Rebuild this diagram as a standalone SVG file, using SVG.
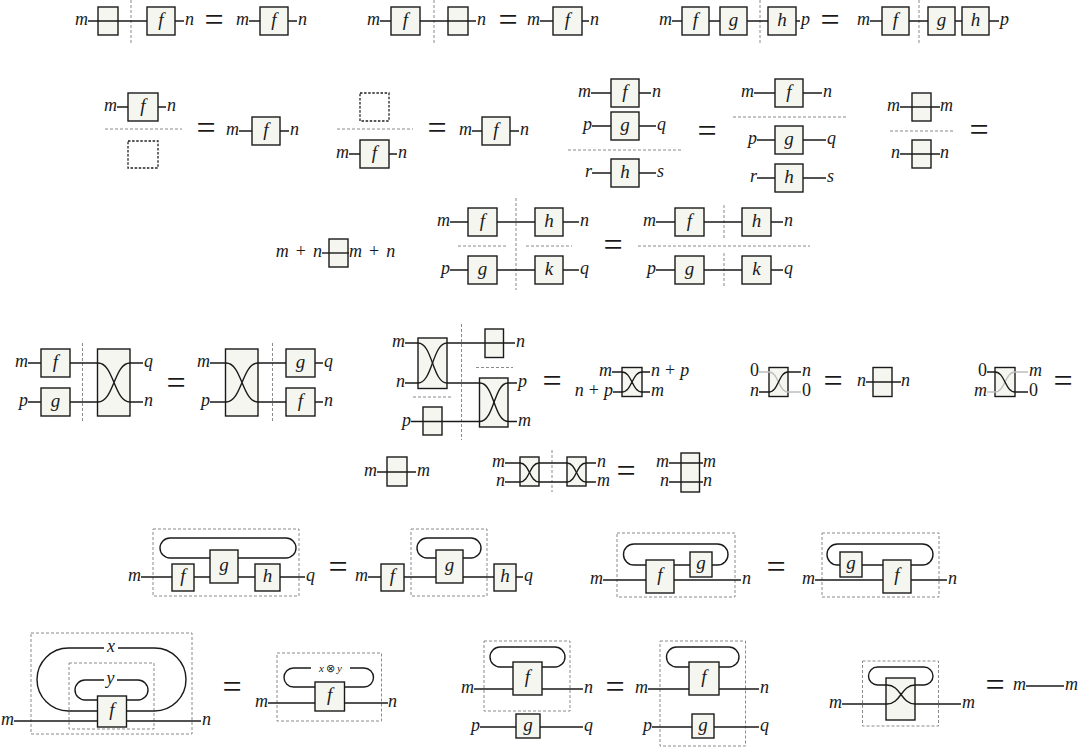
<svg xmlns="http://www.w3.org/2000/svg" width="1084" height="749" viewBox="0 0 1084 749">
<style>
.b{fill:#f6f6f0;stroke:#1a1a1a;stroke-width:1.4}
.w{fill:none;stroke:#1a1a1a;stroke-width:1.4}
.gw{fill:none;stroke:#bdbdbd;stroke-width:1.4}
.d{fill:none;stroke:#8a8a8a;stroke-width:1;stroke-dasharray:3 2}
.dot{fill:none;stroke:#222;stroke-width:1.3;stroke-dasharray:2.5 1.6}
.t{font-family:"Liberation Serif",serif;font-style:italic;font-size:18px;fill:#1a1a1a}
.e{text-anchor:end}
.c{text-anchor:middle;font-size:19px}
.s{font-size:11px;text-anchor:middle}
.u{font-style:normal}
.eq{font-family:"Liberation Serif",serif;font-size:34px;fill:#1a1a1a;text-anchor:middle}
</style>
<rect width="1084" height="749" fill="#ffffff"/>

<!-- ===== nodes: boxes ===== -->
<g id="row1">
  <g id="r1a-id"><rect class="b" x="98" y="7" width="20" height="28"/></g>
  <g id="r1a-f"><rect class="b" x="147" y="7" width="28" height="28"/><text class="t c" x="161" y="26">f</text></g>
  <g id="r1b-f"><rect class="b" x="260" y="7" width="28" height="28"/><text class="t c" x="274" y="26">f</text></g>
  <g id="r1c-f"><rect class="b" x="391" y="7" width="29" height="28"/><text class="t c" x="405.5" y="26">f</text></g>
  <g id="r1c-id"><rect class="b" x="448" y="7" width="20" height="28"/></g>
  <g id="r1d-f"><rect class="b" x="553" y="7" width="29" height="28"/><text class="t c" x="567.5" y="26">f</text></g>
  <g id="r1e-f"><rect class="b" x="682" y="7" width="27" height="28"/><text class="t c" x="695.5" y="26">f</text></g>
  <g id="r1e-g"><rect class="b" x="720" y="7" width="27" height="28"/><text class="t c" x="733.5" y="26">g</text></g>
  <g id="r1e-h"><rect class="b" x="768" y="7" width="28" height="28"/><text class="t c" x="782" y="26">h</text></g>
  <g id="r1f-f"><rect class="b" x="882" y="7" width="27" height="28"/><text class="t c" x="895.5" y="26">f</text></g>
  <g id="r1f-g"><rect class="b" x="928" y="7" width="27" height="28"/><text class="t c" x="941.5" y="26">g</text></g>
  <g id="r1f-h"><rect class="b" x="962" y="7" width="27" height="28"/><text class="t c" x="975.5" y="26">h</text></g>
</g>

<g id="row2">
  <g id="r2a-f"><rect class="b" x="128" y="93" width="30" height="28"/><text class="t c" x="143" y="112">f</text></g>
  <g id="r2a-empty"><rect class="dot" x="128" y="141" width="30" height="27"/></g>
  <g id="r2b-f"><rect class="b" x="252" y="117" width="28" height="28"/><text class="t c" x="266" y="136">f</text></g>
  <g id="r2c-empty"><rect class="dot" x="360" y="93" width="29" height="28"/></g>
  <g id="r2c-f"><rect class="b" x="360" y="140" width="29" height="28"/><text class="t c" x="374.5" y="159">f</text></g>
  <g id="r2d-f"><rect class="b" x="482" y="117" width="28" height="28"/><text class="t c" x="496" y="136">f</text></g>
  <g id="r2e-f"><rect class="b" x="611" y="79" width="28" height="28"/><text class="t c" x="625" y="98">f</text></g>
  <g id="r2e-g"><rect class="b" x="611" y="112" width="28" height="28"/><text class="t c" x="625" y="131">g</text></g>
  <g id="r2e-h"><rect class="b" x="611" y="159" width="28" height="28"/><text class="t c" x="625" y="178">h</text></g>
  <g id="r2f-f"><rect class="b" x="775" y="79" width="28" height="28"/><text class="t c" x="789" y="98">f</text></g>
  <g id="r2f-g"><rect class="b" x="775" y="126" width="28" height="28"/><text class="t c" x="789" y="145">g</text></g>
  <g id="r2f-h"><rect class="b" x="775" y="164" width="28" height="28"/><text class="t c" x="789" y="183">h</text></g>
  <g id="r2g-idm"><rect class="b" x="912" y="93" width="19" height="28"/></g>
  <g id="r2g-idn"><rect class="b" x="912" y="140" width="19" height="28"/></g>
</g>

<g id="row3">
  <g id="r3a-id"><rect class="b" x="329" y="239" width="19" height="28"/></g>
  <g id="r3b-f"><rect class="b" x="468" y="208" width="29" height="28"/><text class="t c" x="482.5" y="227">f</text></g>
  <g id="r3b-h"><rect class="b" x="535" y="208" width="28" height="28"/><text class="t c" x="549" y="227">h</text></g>
  <g id="r3b-g"><rect class="b" x="468" y="256" width="29" height="28"/><text class="t c" x="482.5" y="275">g</text></g>
  <g id="r3b-k"><rect class="b" x="535" y="256" width="28" height="28"/><text class="t c" x="549" y="275">k</text></g>
  <g id="r3c-f"><rect class="b" x="675" y="208" width="29" height="28"/><text class="t c" x="689.5" y="227">f</text></g>
  <g id="r3c-h"><rect class="b" x="742" y="208" width="29" height="28"/><text class="t c" x="756.5" y="227">h</text></g>
  <g id="r3c-g"><rect class="b" x="675" y="256" width="29" height="28"/><text class="t c" x="689.5" y="275">g</text></g>
  <g id="r3c-k"><rect class="b" x="742" y="256" width="29" height="28"/><text class="t c" x="756.5" y="275">k</text></g>
</g>

<g id="row4">
  <g id="r4a-f"><rect class="b" x="41" y="349" width="29" height="28"/><text class="t c" x="55.5" y="368">f</text></g>
  <g id="r4a-g"><rect class="b" x="41" y="388" width="29" height="28"/><text class="t c" x="55.5" y="407">g</text></g>
  <g id="r4a-sw"><rect class="b" x="97.5" y="349" width="32.5" height="67"/></g>
  <g id="r4b-sw"><rect class="b" x="225.5" y="349" width="32.5" height="67"/></g>
  <g id="r4b-g"><rect class="b" x="286" y="349" width="29" height="28"/><text class="t c" x="300.5" y="368">g</text></g>
  <g id="r4b-f"><rect class="b" x="286" y="388" width="29" height="28"/><text class="t c" x="300.5" y="407">f</text></g>
  <g id="r4c-sw1"><rect class="b" x="418" y="338" width="29" height="50.5"/></g>
  <g id="r4c-id1"><rect class="b" x="485" y="329" width="18.5" height="28.5"/></g>
  <g id="r4c-sw2"><rect class="b" x="479.5" y="378" width="28.5" height="49"/></g>
  <g id="r4c-id2"><rect class="b" x="423" y="407" width="19" height="28"/></g>
  <g id="r4d-sw"><rect class="b" x="622" y="367.5" width="20" height="29"/></g>
  <g id="r4e-sw"><rect class="b" x="769" y="367.5" width="19" height="29"/></g>
  <g id="r4f-id"><rect class="b" x="873" y="367.5" width="19" height="29"/></g>
  <g id="r4g-sw"><rect class="b" x="995" y="367.5" width="20" height="29"/></g>
</g>

<g id="row5">
  <g id="r5a-id"><rect class="b" x="387" y="457" width="20" height="29"/></g>
  <g id="r5b-sw1"><rect class="b" x="520" y="457" width="19" height="29"/></g>
  <g id="r5b-sw2"><rect class="b" x="567" y="457" width="19" height="29"/></g>
  <g id="r5c-id"><rect class="b" x="681" y="453" width="18.5" height="39"/></g>
</g>

<g id="row6">
  <g id="r6a-frame"><rect class="d" x="153" y="529" width="146" height="67"/></g>
  <g id="r6a-f"><rect class="b" x="172" y="564" width="22" height="27"/><text class="t c" x="183" y="582">f</text></g>
  <g id="r6a-g"><rect class="b" x="210" y="550" width="28" height="33"/><text class="t c" x="224" y="571">g</text></g>
  <g id="r6a-h"><rect class="b" x="255" y="564" width="25" height="27"/><text class="t c" x="267.5" y="582">h</text></g>
  <g id="r6b-frame"><rect class="d" x="411" y="529" width="76" height="67"/></g>
  <g id="r6b-f"><rect class="b" x="381" y="564" width="23" height="27"/><text class="t c" x="392.5" y="582">f</text></g>
  <g id="r6b-g"><rect class="b" x="436" y="550" width="27" height="33"/><text class="t c" x="449.5" y="571">g</text></g>
  <g id="r6b-h"><rect class="b" x="494" y="564" width="22" height="27"/><text class="t c" x="505" y="582">h</text></g>
  <g id="r6c-frame"><rect class="d" x="617" y="533" width="118" height="64"/></g>
  <g id="r6c-f"><rect class="b" x="646" y="560" width="28" height="33"/><text class="t c" x="660" y="581">f</text></g>
  <g id="r6c-g"><rect class="b" x="690" y="552" width="22" height="25"/><text class="t c" x="701" y="569">g</text></g>
  <g id="r6d-frame"><rect class="d" x="822" y="533" width="117" height="64"/></g>
  <g id="r6d-g"><rect class="b" x="840" y="552" width="22" height="25"/><text class="t c" x="851" y="569">g</text></g>
  <g id="r6d-f"><rect class="b" x="883" y="560" width="28" height="33"/><text class="t c" x="897" y="581">f</text></g>
</g>

<g id="row7">
  <g id="r7a-outer"><rect class="d" x="31" y="633" width="161" height="101"/></g>
  <g id="r7a-inner"><rect class="d" x="69" y="663" width="85" height="66"/></g>
  <g id="r7a-f"><rect class="b" x="97.5" y="696" width="29" height="31"/><text class="t c" x="112" y="716">f</text></g>
  <g id="r7b-frame"><rect class="d" x="277" y="653" width="104.5" height="68"/></g>
  <g id="r7b-f"><rect class="b" x="315" y="682" width="29.5" height="29"/><text class="t c" x="329.7" y="701">f</text></g>
  <g id="r7c-frame"><rect class="d" x="484" y="641" width="86" height="70"/></g>
  <g id="r7c-f"><rect class="b" x="513" y="662" width="29" height="33"/><text class="t c" x="527.5" y="683">f</text></g>
  <g id="r7c-g"><rect class="b" x="516" y="714" width="24" height="24"/><text class="t c" x="528" y="731">g</text></g>
  <g id="r7d-frame"><rect class="d" x="660" y="641" width="85.5" height="105"/></g>
  <g id="r7d-f"><rect class="b" x="689" y="662" width="30" height="33"/><text class="t c" x="704" y="683">f</text></g>
  <g id="r7d-g"><rect class="b" x="692" y="714" width="22" height="24"/><text class="t c" x="703" y="731">g</text></g>
  <g id="r7e-frame"><rect class="d" x="862.5" y="661" width="76" height="65"/></g>
  <g id="r7e-sw"><rect class="b" x="886" y="678" width="29" height="42"/></g>
</g>

<!-- ===== connectors ===== -->
<g id="connectors">
  <g id="separators">
    <line class="d" x1="131" y1="0" x2="131" y2="44"/>
    <line class="d" x1="434" y1="0" x2="434" y2="44"/>
    <line class="d" x1="760" y1="0" x2="760" y2="44"/>
    <line class="d" x1="919" y1="0" x2="919" y2="44"/>
    <line class="d" x1="105" y1="129" x2="182" y2="129"/>
    <line class="d" x1="337" y1="129" x2="413" y2="129"/>
    <line class="d" x1="568" y1="150" x2="682" y2="150"/>
    <line class="d" x1="733" y1="117" x2="847" y2="117"/>
    <line class="d" x1="890" y1="131" x2="955" y2="131"/>
    <line class="d" x1="516" y1="198" x2="516" y2="290"/>
    <line class="d" x1="458" y1="246" x2="506" y2="246"/>
    <line class="d" x1="526" y1="246" x2="572" y2="246"/>
    <line class="d" x1="724" y1="205" x2="724" y2="240"/>
    <line class="d" x1="724" y1="253" x2="724" y2="288"/>
    <line class="d" x1="638" y1="246" x2="810" y2="246"/>
    <line class="d" x1="82.5" y1="343" x2="82.5" y2="422"/>
    <line class="d" x1="272.5" y1="343" x2="272.5" y2="422"/>
    <line class="d" x1="461.5" y1="324" x2="461.5" y2="440"/>
    <line class="d" x1="476" y1="367.5" x2="513" y2="367.5"/>
    <line class="d" x1="413" y1="397" x2="451" y2="397"/>
    <line class="d" x1="552" y1="450" x2="552" y2="492"/>
  </g>
  <path class="w" d="M88,21H147M175,21H184"/>
  <path class="w" d="M249,21H260M288,21H297"/>
  <path class="w" d="M380,21H391M420,21H476"/>
  <path class="w" d="M540,21H553M582,21H589"/>
  <path class="w" d="M672,21H682M709,21H720M747,21H768M796,21H800"/>
  <path class="w" d="M870,21H882M909,21H928M955,21H962M989,21H999"/>
  <path class="w" d="M117,107H128M158,107H166"/>
  <path class="w" d="M239,131H252M280,131H289"/>
  <path class="w" d="M349,154H360M389,154H397"/>
  <path class="w" d="M472,131H482M510,131H519"/>
  <path class="w" d="M591,93H611M639,93H651M592,126H611M639,126H656M592,173H611M639,173H656"/>
  <path class="w" d="M754,93H775M803,93H822M757,140H775M803,140H826M757,178H775M803,178H826"/>
  <path class="w" d="M900,107H940M900,154H940"/>
  <path class="w" d="M322,253H349"/>
  <path class="w" d="M450,222H468M497,222H535M563,222H579M450,270H468M497,270H535M563,270H579"/>
  <path class="w" d="M656,222H675M704,222H742M771,222H783M656,270H675M704,270H742M771,270H783"/>
  <path class="w" d="M28,363H41M28,402H41"/>
  <path class="w" d="M70,363H98C114,363 114,402 130,402H143M70,402H98C114,402 114,363 130,363H143"/>
  <path class="w" d="M210,363H226C242,363 242,402 258,402H286M210,402H226C242,402 242,363 258,363H286M315,363H323M315,402H323"/>
  <path class="w" d="M405,343H418C432.5,343 432.5,383 447,383H480C494,383 494,421.5 508,421.5H517"/>
  <path class="w" d="M405,383H418C432.5,383 432.5,343 447,343H515"/>
  <path class="w" d="M411,421.5H480C494,421.5 494,383 508,383H517"/>
  <path class="w" d="M612,372H622C632,372 632,392 642,392H650M613,392H622C632,392 632,372 642,372H650"/>
  <path class="gw" d="M759,372H769C778.5,372 778.5,392 788,392H801"/>
  <path class="w" d="M759,392H769C778.5,392 778.5,372 788,372H801"/>
  <path class="w" d="M866,382H901"/>
  <path class="gw" d="M987,392H995C1005,392 1005,372 1015,372H1028"/>
  <path class="w" d="M987,372H995C1005,372 1005,392 1015,392H1028"/>
  <path class="w" d="M377,472H416"/>
  <path class="w" d="M505,463H520C529.5,463 529.5,482 539,482H567C576.5,482 576.5,463 586,463H596"/>
  <path class="w" d="M505,482H520C529.5,482 529.5,463 539,463H567C576.5,463 576.5,482 586,482H596"/>
  <path class="w" d="M669,463H703M669,482H703"/>
  <path class="w" d="M141,577H172M194,577H210M238,577H255M280,577H305"/>
  <path class="w" d="M238,558H286A10,10 0 0 0 286,538H170A10,10 0 0 0 170,558H210"/>
  <path class="w" d="M368,577H381M404,577H436M463,577H494M516,577H523"/>
  <path class="w" d="M463,558H471A10,10 0 0 0 471,538H427A10,10 0 0 0 427,558H436"/>
  <path class="w" d="M603,580H646M674,580H741M674,565H690"/>
  <path class="w" d="M712,565H717.5A10.5,10.5 0 0 0 717.5,544H634A10.5,10.5 0 0 0 634,565H646"/>
  <path class="w" d="M815,580H883M911,580H947M862,565H883"/>
  <path class="w" d="M911,565H922.5A10.5,10.5 0 0 0 922.5,544H837.5A10.5,10.5 0 0 0 837.5,565H840"/>
  <path class="w" d="M14,721H97.5M126.5,721H201"/>
  <path class="w" d="M126.5,711H154.5A31.5,31.5 0 0 0 154.5,648H118M104,648H68.5A31.5,31.5 0 0 0 68.5,711H97.5"/>
  <path class="w" d="M126.5,700H138A10,10 0 0 0 138,680H117M104,680H85A10,10 0 0 0 85,700H97.5"/>
  <path class="w" d="M268,703H315M344.5,703H388"/>
  <path class="w" d="M344.5,687H364A9.5,9.5 0 0 0 364,668H350M311,668H293.5A9.5,9.5 0 0 0 293.5,687H315"/>
  <path class="w" d="M474,689H513M542,689H583M480,727H516M540,727H583"/>
  <path class="w" d="M542,667H555A10,10 0 0 0 555,647H500A10,10 0 0 0 500,667H513"/>
  <path class="w" d="M648,689H689M719,689H759M652,727H692M714,727H759"/>
  <path class="w" d="M719,667H729A10,10 0 0 0 729,647H676.5A10,10 0 0 0 676.5,667H689"/>
  <path class="w" d="M842,704H887C901,704 901,685 915,685H924A9,9 0 0 0 924,667H877.5A9,9 0 0 0 877.5,685H887C901,685 901,704 915,704H961"/>
  <path class="w" d="M1026,686H1064"/>
</g>

<!-- ===== wire labels ===== -->
<g id="labels" class="t">
  <text class="e" x="88" y="25">m</text><text x="185" y="25">n</text>
  <text class="e" x="249" y="25">m</text><text x="298" y="25">n</text>
  <text class="e" x="380" y="25">m</text><text x="477" y="25">n</text>
  <text class="e" x="540" y="25">m</text><text x="590" y="25">n</text>
  <text class="e" x="672" y="25">m</text><text x="801" y="25">p</text>
  <text class="e" x="870" y="25">m</text><text x="1000" y="25">p</text>

  <text class="e" x="117" y="111">m</text><text x="167" y="111">n</text>
  <text class="e" x="239" y="135">m</text><text x="290" y="135">n</text>
  <text class="e" x="349" y="158">m</text><text x="398" y="158">n</text>
  <text class="e" x="472" y="135">m</text><text x="520" y="135">n</text>
  <text class="e" x="591" y="97">m</text><text x="652" y="97">n</text>
  <text class="e" x="592" y="130">p</text><text x="657" y="130">q</text>
  <text class="e" x="592" y="177">r</text><text x="657" y="177">s</text>
  <text class="e" x="754" y="97">m</text><text x="823" y="97">n</text>
  <text class="e" x="757" y="144">p</text><text x="827" y="144">q</text>
  <text class="e" x="757" y="182">r</text><text x="827" y="182">s</text>
  <text class="e" x="900" y="111">m</text><text x="940" y="111">m</text>
  <text class="e" x="900" y="158">n</text><text x="940" y="158">n</text>

  <text class="e" x="322" y="257">m<tspan class="u" dx="7">+</tspan><tspan dx="7">n</tspan></text><text x="349" y="257">m<tspan class="u" dx="7">+</tspan><tspan dx="7">n</tspan></text>
  <text class="e" x="450" y="226">m</text><text x="580" y="226">n</text>
  <text class="e" x="450" y="274">p</text><text x="580" y="274">q</text>
  <text class="e" x="656" y="226">m</text><text x="784" y="226">n</text>
  <text class="e" x="656" y="274">p</text><text x="784" y="274">q</text>

  <text class="e" x="28" y="367">m</text><text class="e" x="28" y="406">p</text>
  <text x="144" y="367">q</text><text x="144" y="406">n</text>
  <text class="e" x="210" y="367">m</text><text class="e" x="210" y="406">p</text>
  <text x="324" y="367">q</text><text x="324" y="406">n</text>
  <text class="e" x="405" y="347">m</text><text class="e" x="405" y="387">n</text><text class="e" x="411" y="425.5">p</text>
  <text x="516" y="347">n</text><text x="518" y="387">p</text><text x="518" y="425.5">m</text>
  <text class="e" x="612" y="376">m</text><text class="e" x="613" y="396">n<tspan class="u" dx="5">+</tspan><tspan dx="5">p</tspan></text>
  <text x="651" y="376">n<tspan class="u" dx="5">+</tspan><tspan dx="5">p</tspan></text><text x="651" y="396">m</text>
  <text class="e u" x="759" y="376">0</text><text class="e" x="759" y="396">n</text>
  <text x="802" y="376">n</text><text class="u" x="802" y="396">0</text>
  <text class="e" x="866" y="386">n</text><text x="901" y="386">n</text>
  <text class="e u" x="987" y="376">0</text><text class="e" x="987" y="396">m</text>
  <text x="1029" y="376">m</text><text class="u" x="1029" y="396">0</text>

  <text class="e" x="377" y="476">m</text><text x="417" y="476">m</text>
  <text class="e" x="505" y="467">m</text><text class="e" x="505" y="486">n</text>
  <text x="597" y="467">n</text><text x="597" y="486">m</text>
  <text class="e" x="669" y="467">m</text><text class="e" x="669" y="486">n</text>
  <text x="703" y="467">m</text><text x="703" y="486">n</text>

  <text class="e" x="141" y="581">m</text><text x="306" y="581">q</text>
  <text class="e" x="368" y="581">m</text><text x="524" y="581">q</text>
  <text class="e" x="603" y="584">m</text><text x="742" y="584">n</text>
  <text class="e" x="815" y="584">m</text><text x="948" y="584">n</text>

  <text class="e" x="14" y="725">m</text><text x="202" y="725">n</text>
  <text x="111" y="652" text-anchor="middle">x</text>
  <text x="110.5" y="684" text-anchor="middle">y</text>
  <text class="e" x="268" y="707">m</text><text x="388" y="707">n</text>
  <text class="s" x="330.5" y="671.5">x<tspan class="u" dx="2">⊗</tspan><tspan dx="2">y</tspan></text>
  <text class="e" x="474" y="693">m</text><text x="584" y="693">n</text>
  <text class="e" x="480" y="731">p</text><text x="584" y="731">q</text>
  <text class="e" x="648" y="693">m</text><text x="760" y="693">n</text>
  <text class="e" x="652" y="731">p</text><text x="760" y="731">q</text>
  <text class="e" x="842" y="708">m</text><text x="962" y="708">m</text>
  <text class="e" x="1026" y="690">m</text><text x="1065" y="690">m</text>
</g>

<g id="equals" class="eq">
  <text x="214" y="31">=</text><text x="508" y="31">=</text><text x="830" y="31">=</text>
  <text x="206" y="139">=</text><text x="437" y="139">=</text><text x="707" y="142">=</text><text x="979" y="141">=</text>
  <text x="613" y="256">=</text>
  <text x="176" y="394">=</text><text x="552" y="392">=</text><text x="833" y="392">=</text><text x="1063" y="392">=</text>
  <text x="626" y="482">=</text>
  <text x="338" y="578">=</text><text x="776" y="578">=</text>
  <text x="232" y="698">=</text><text x="615" y="698">=</text><text x="995" y="696">=</text>
</g>
</svg>
